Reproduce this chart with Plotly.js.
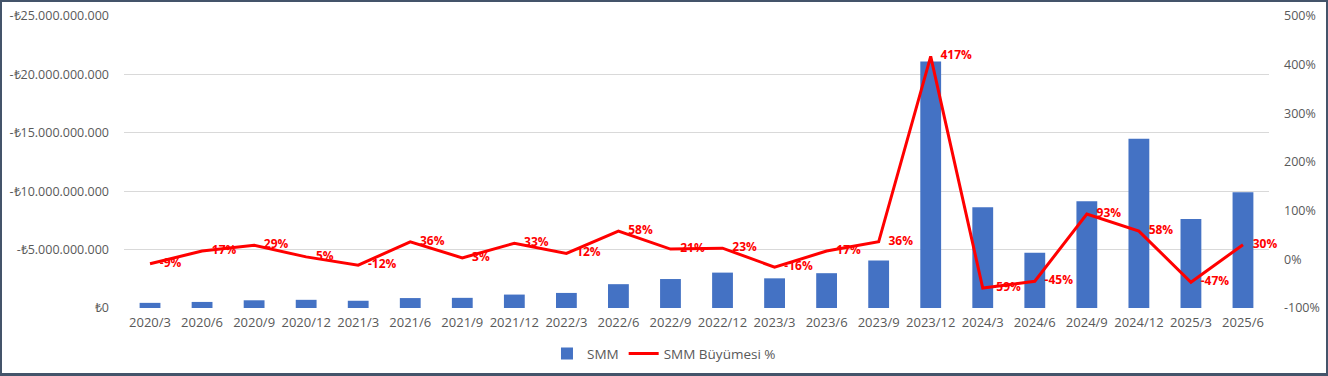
<!DOCTYPE html>
<html>
<head>
<meta charset="utf-8">
<script src="https://cdn.plot.ly/plotly-3.0.1.min.js"></script>
<style>
  html, body { margin: 0; padding: 0; background: #fff; }
  #wrap { position: relative; width: 1328px; height: 376px; }
  #chart { width: 1328px; height: 376px; }
  #frame { position: absolute; left: 0; top: 0; width: 1328px; height: 376px; box-sizing: border-box;
           border: 2px solid #44546A; border-bottom-width: 3px; pointer-events: none; }
</style>
</head>
<body>
<div id="wrap"><div id="chart"></div><div id="frame"></div></div>
<script>
const periods = ['2020/3','2020/6','2020/9','2020/12','2021/3','2021/6','2021/9','2021/12','2022/3','2022/6','2022/9','2022/12','2023/3','2023/6','2023/9','2023/12','2024/3','2024/6','2024/9','2024/12','2025/3','2025/6'];
const smmBillions = [0.44, 0.52, 0.66, 0.70, 0.62, 0.85, 0.87, 1.15, 1.29, 2.04, 2.48, 3.03, 2.54, 2.98, 4.07, 21.1, 8.62, 4.72, 9.15, 14.48, 7.62, 9.92];
const growthPct = [-9, 17, 29, 5, -12, 36, 3, 33, 12, 58, 21, 23, -16, 17, 36, 417, -59, -45, 93, 58, -47, 30];
const leftTickVals = [0, 5e9, 10e9, 15e9, 20e9, 25e9];
const leftTickText = ['₺0', '-₺5.000.000.000', '-₺10.000.000.000', '-₺15.000.000.000', '-₺20.000.000.000', '-₺25.000.000.000'];
const rightTickVals = [-100, 0, 100, 200, 300, 400, 500];
const rightTickText = ['-100%', '0%', '100%', '200%', '300%', '400%', '500%'];

const smm = smmBillions.map(v => v * 1e9);
const growthLabels = growthPct.map(v => v + '%');

const FONT = '"Open Sans", "Liberation Sans", Arial, sans-serif';
const GRAY = '#595959';

const traces = [
  {
    type: 'bar', name: 'SMM', x: periods, y: smm,
    marker: { color: '#4472C4' }, yaxis: 'y'
  },
  {
    type: 'scatter', mode: 'lines+markers+text', name: 'SMM Büyümesi %',
    x: periods, y: growthPct, yaxis: 'y2',
    line: { color: '#FF0000', width: 3 },
    marker: { size: 14, color: 'rgba(0,0,0,0)' },
    text: growthLabels, textposition: 'middle right',
    textfont: { family: FONT, size: 12, color: '#FF0000', weight: 'bold' },
    cliponaxis: false
  }
];

const layout = {
  width: 1328, height: 376,
  margin: { l: 124, r: 59, t: 16, b: 68, autoexpand: false },
  paper_bgcolor: '#fff', plot_bgcolor: '#fff',
  showlegend: true,
  bargap: 0.6,
  font: { family: FONT, size: 12.5, color: GRAY },
  xaxis: {
    type: 'category', range: [-0.5, periods.length - 0.5], autorange: false,
    showgrid: false, zeroline: false, showline: false,
    ticks: '', ticklabelstandoff: 5, tickfont: { family: FONT, size: 13, color: GRAY }
  },
  yaxis: {
    range: [0, 25e9], autorange: false, tickvals: leftTickVals, ticktext: leftTickText,
    showgrid: true, gridcolor: '#D9D9D9', gridwidth: 1, zeroline: false, showline: false,
    ticks: '', ticklabelstandoff: 14,
    tickfont: { family: FONT, size: 12.5, color: GRAY }
  },
  yaxis2: {
    overlaying: 'y', side: 'right', range: [-100, 500], autorange: false,
    tickvals: rightTickVals, ticktext: rightTickText,
    showgrid: false, zeroline: false, showline: false, ticks: '', ticklabelstandoff: 14,
    tickfont: { family: FONT, size: 12.5, color: GRAY }
  },
  legend: {
    orientation: 'h', x: 0.4716, xanchor: 'center', y: -0.157, yanchor: 'middle',
    font: { family: FONT, size: 13.5, color: GRAY }, bgcolor: 'rgba(0,0,0,0)'
  }
};

Plotly.newPlot('chart', traces, layout, { displayModeBar: false, staticPlot: true });
</script>
</body>
</html>
